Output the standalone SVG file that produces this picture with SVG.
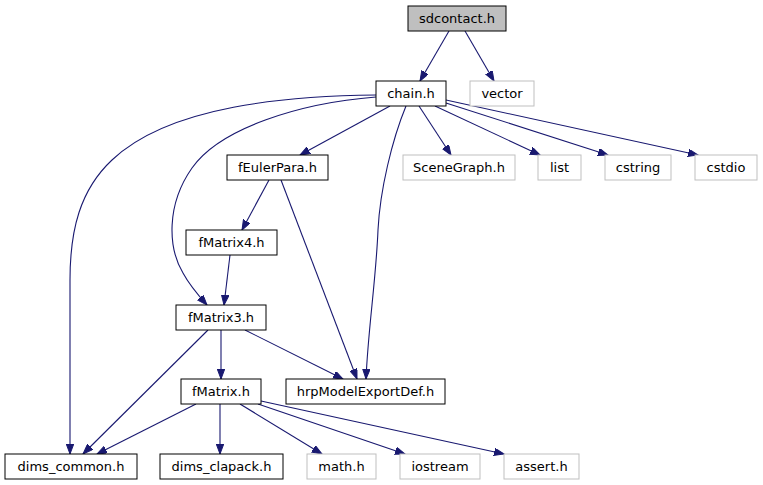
<svg xmlns="http://www.w3.org/2000/svg" width="763" height="485" viewBox="0 0 763 485">
<defs>
<marker id="ah" markerUnits="userSpaceOnUse" markerWidth="11" markerHeight="8" refX="10" refY="3.75" orient="auto">
<path d="M0,0 L10,3.75 L0,7.5 z" fill="#191970" stroke="#191970" stroke-width="1"/>
</marker>
<style>
.n rect{fill:#fff;stroke:#000;stroke-width:1}
.x rect{fill:#fff;stroke:#bfbfbf;stroke-width:1}
.r rect{fill:#bfbfbf;stroke:#000;stroke-width:1}
text{font-family:"DejaVu Sans",sans-serif;font-size:13px;text-anchor:middle;fill:#000}
#edges path{fill:none;stroke:#191970;stroke-width:1.1;marker-end:url(#ah)}
</style>
</defs>
<rect width="763" height="485" fill="#fff"/>
<g id="edges">
<path d="M449,31 L420,81"/>
<path d="M465,31 L494,81"/>
<path d="M390,106 L300,155"/>
<path d="M419,106 L451,155"/>
<path d="M435,106 L540,155"/>
<path d="M446,103 L608,155"/>
<path d="M446,100 L698,155"/>
<path d="M406,106 C392,140 380,190 378,230 C376,280 368,330 366,379"/>
<path d="M281,180 L357,379"/>
<path d="M269,180 L242,230"/>
<path d="M230,255 L224,305"/>
<path d="M376,97 C300,103 220,128 192,168 C166,205 168,248 183,273 C190,286 198,295 207,305"/>
<path d="M376,95 C290,96 170,105 112,160 C80,190 70,230 70,280 C70,350 70,420 70,454"/>
<path d="M221,330 L221,379"/>
<path d="M245,330 L343,379"/>
<path d="M208,330 L83,454"/>
<path d="M196,404 L97,454"/>
<path d="M220,404 L220,454"/>
<path d="M240,404 L322,454"/>
<path d="M258,404 L405,454"/>
<path d="M261,401 L504,454"/>
</g>
<g id="sdcontact" class="r"><rect x="408" y="6" width="98" height="25"/><text x="457" y="23">sdcontact.h</text></g>
<g id="chain" class="n"><rect x="376" y="81" width="70" height="25"/><text x="411" y="98">chain.h</text></g>
<g id="vector" class="x"><rect x="470" y="81" width="64" height="25"/><text x="502" y="98">vector</text></g>
<g id="fEulerPara" class="n"><rect x="227" y="155" width="101" height="25"/><text x="277.5" y="172">fEulerPara.h</text></g>
<g id="SceneGraph" class="x"><rect x="403" y="155" width="112" height="25"/><text x="459" y="172">SceneGraph.h</text></g>
<g id="list" class="x"><rect x="538" y="155" width="43" height="25"/><text x="559.5" y="172">list</text></g>
<g id="cstring" class="x"><rect x="605" y="155" width="66" height="25"/><text x="638" y="172">cstring</text></g>
<g id="cstdio" class="x"><rect x="695" y="155" width="62" height="25"/><text x="726" y="172">cstdio</text></g>
<g id="fMatrix4" class="n"><rect x="186" y="230" width="91" height="25"/><text x="231.5" y="247">fMatrix4.h</text></g>
<g id="fMatrix3" class="n"><rect x="176" y="305" width="90" height="25"/><text x="221" y="322">fMatrix3.h</text></g>
<g id="fMatrix" class="n"><rect x="181" y="379" width="80" height="25"/><text x="221" y="396">fMatrix.h</text></g>
<g id="hrpModelExportDef" class="n"><rect x="286" y="379" width="159" height="25"/><text x="365.5" y="396">hrpModelExportDef.h</text></g>
<g id="dims_common" class="n"><rect x="5" y="454" width="132" height="25"/><text x="71" y="471">dims_common.h</text></g>
<g id="dims_clapack" class="n"><rect x="160" y="454" width="123" height="25"/><text x="221.5" y="471">dims_clapack.h</text></g>
<g id="math" class="x"><rect x="307" y="454" width="69" height="25"/><text x="341.5" y="471">math.h</text></g>
<g id="iostream" class="x"><rect x="400" y="454" width="80" height="25"/><text x="440" y="471">iostream</text></g>
<g id="assert" class="x"><rect x="504" y="454" width="75" height="25"/><text x="541.5" y="471">assert.h</text></g>
</svg>
